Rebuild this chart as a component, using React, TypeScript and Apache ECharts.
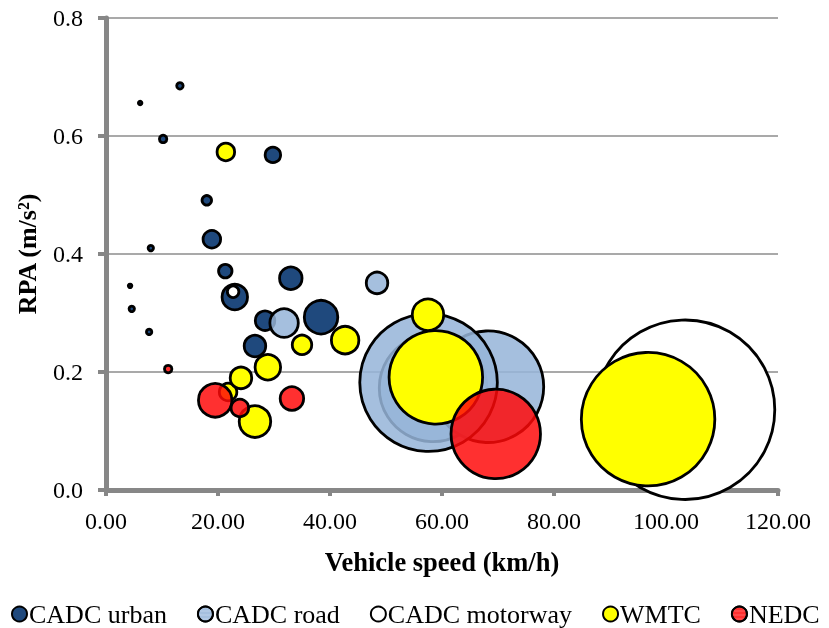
import React, { useEffect, useRef } from "react";
import * as echarts from "echarts";

// Driving cycles: mean vehicle speed (km/h), RPA (m/s²) and bubble size
const cycleNames = ["CADC urban", "CADC road", "CADC motorway", "WMTC", "NEDC"];

const urbanSpeed = [4.3, 4.6, 6.1, 7.7, 8.0, 10.2, 13.2, 18.0, 18.9, 21.3, 23.0, 26.6, 28.4, 29.8, 33.0, 38.4];
const urbanRpa = [0.346, 0.307, 0.656, 0.268, 0.41, 0.595, 0.685, 0.491, 0.425, 0.371, 0.327, 0.244, 0.287, 0.568, 0.359, 0.293];
const urbanSize = [0.04, 0.09, 0.04, 0.09, 0.09, 0.17, 0.13, 0.28, 0.95, 0.56, 2.0, 1.43, 1.17, 0.74, 1.56, 3.46];

const roadSpeed = [31.8, 48.4, 58.4, 68.2, 57.6];
const roadRpa = [0.283, 0.351, 0.173, 0.175, 0.182];
const roadSize = [2.5, 1.43, 35.7, 38.4, 58.4];

const motorwaySpeed = [22.7, 103.4];
const motorwayRpa = [0.336, 0.136];
const motorwaySize = [0.41, 99.4];

const wmtcSpeed = [21.4, 21.8, 24.1, 26.6, 28.9, 35.0, 42.7, 58.9, 57.5, 96.8];
const wmtcRpa = [0.573, 0.166, 0.19, 0.116, 0.208, 0.246, 0.254, 0.191, 0.297, 0.12];
const wmtcSize = [0.95, 0.95, 1.43, 3.06, 2.01, 1.17, 2.33, 27.0, 3.06, 55.0];

const nedcSpeed = [11.1, 19.5, 23.9, 33.2, 69.6];
const nedcRpa = [0.205, 0.152, 0.139, 0.155, 0.095];
const nedcSize = [0.17, 3.46, 0.95, 1.7, 24.7];

const xTicks = { min: 0, max: 120, interval: 20 };
const yTicks = { min: 0, max: 0.8, interval: 0.2 };

const FONT = "'Liberation Serif', 'Times New Roman', serif";
const AXIS_GREY = "#878787";

function zip(xs: number[], ys: number[], ss: number[]) {
  return xs.map((x, i) => [x, ys[i], ss[i]]);
}

export default function App() {
  const ref = useRef<HTMLDivElement>(null);

  useEffect(() => {
    if (!ref.current) return;
    const chart = echarts.init(ref.current, undefined, { renderer: "svg" });

    // fine cross-hatch on the translucent fills
    const gridDecal = (color: string) => ({
      symbol: "rect",
      symbolSize: 1,
      dashArrayX: [1, 0],
      dashArrayY: [1, 3],
      rotation: 0,
      color,
    });

    const styles: any[] = [
      { color: "#1F497D" },
      { color: "rgba(150,181,217,0.86)", decal: gridDecal("rgba(235,242,250,0.35)") },
      { color: "#FFFFFF" },
      { color: "#FFFF00" },
      { color: "rgba(255,8,8,0.84)", decal: gridDecal("rgba(255,190,190,0.35)") },
    ];
    const data = [
      zip(urbanSpeed, urbanRpa, urbanSize),
      zip(roadSpeed, roadRpa, roadSize),
      zip(motorwaySpeed, motorwayRpa, motorwaySize),
      zip(wmtcSpeed, wmtcRpa, wmtcSize),
      zip(nedcSpeed, nedcRpa, nedcSize),
    ];

    chart.setOption({
      animation: false,
      textStyle: { fontFamily: FONT },
      grid: { left: 106, right: 51, top: 18, bottom: 138, containLabel: false },
      legend: {
        top: 596,
        left: 6,
        itemGap: 30,
        itemWidth: 15,
        itemHeight: 15,
        icon: "circle",
        textStyle: { fontFamily: FONT, fontSize: 26, color: "#000", padding: [0, 0, 0, -3] },
        data: cycleNames,
      },
      xAxis: {
        type: "value",
        ...xTicks,
        name: "Vehicle speed (km/h)",
        nameLocation: "middle",
        nameGap: 58,
        nameTextStyle: { fontFamily: FONT, fontSize: 26.5, fontWeight: "bold", color: "#000" },
        axisLine: { show: true, onZero: false, lineStyle: { color: AXIS_GREY, width: 5 } },
        axisTick: { show: true, length: 6, lineStyle: { color: AXIS_GREY, width: 4 } },
        axisLabel: {
          fontFamily: FONT,
          fontSize: 24,
          color: "#000",
          margin: 19,
          formatter: (v: number) => v.toFixed(2),
        },
        splitLine: { show: false },
      },
      yAxis: {
        type: "value",
        ...yTicks,
        name: "RPA (m/s²)",
        nameLocation: "middle",
        nameGap: 66,
        nameTextStyle: { fontFamily: FONT, fontSize: 26, fontWeight: "bold", color: "#000" },
        axisLine: { show: true, onZero: false, lineStyle: { color: AXIS_GREY, width: 5 } },
        axisTick: { show: true, length: 8, lineStyle: { color: AXIS_GREY, width: 4 } },
        axisLabel: {
          fontFamily: FONT,
          fontSize: 24,
          color: "#000",
          margin: 23,
          formatter: (v: number) => v.toFixed(1),
        },
        splitLine: { show: true, lineStyle: { color: "#8C8C8C", width: 1.5 } },
      },
      series: cycleNames.map((name, i) => ({
        name,
        type: "scatter",
        clip: false,
        data: data[i],
        symbol: "circle",
        symbolSize: (v: number[]) => 18 * Math.sqrt(v[2]),
        itemStyle: { ...styles[i], borderColor: "#000", borderWidth: 2.8, opacity: 1 },
        emphasis: { disabled: true },
      })),
    });

    return () => chart.dispose();
  }, []);

  return (
    <div
      ref={ref}
      style={{ position: "fixed", left: 0, top: 0, width: 829, height: 628 }}
    />
  );
}
